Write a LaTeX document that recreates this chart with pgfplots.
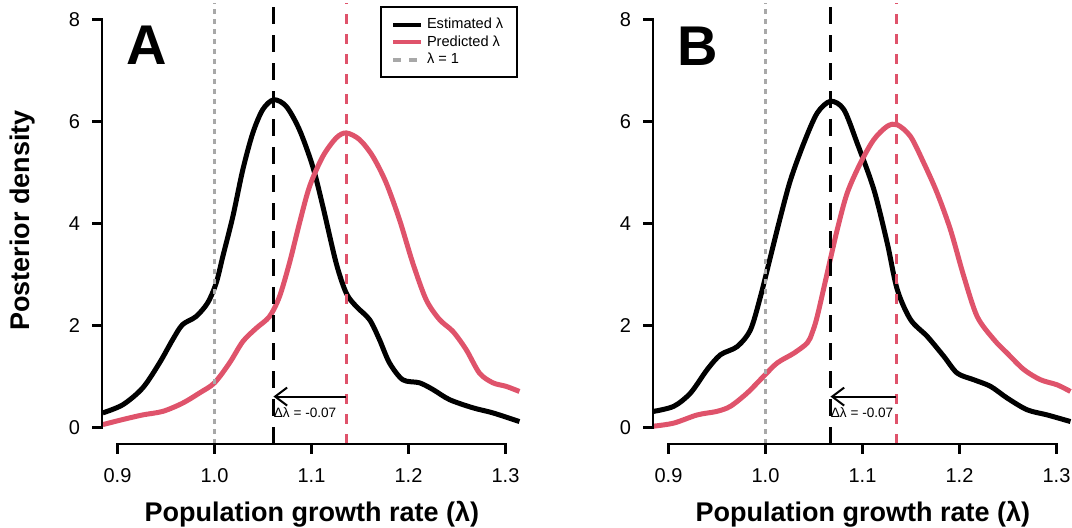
\documentclass[border=0pt]{standalone}
\usepackage{fontspec}
\setmainfont{Liberation Sans}
\usepackage{pgfplots}
\pgfplotsset{compat=1.18}
\usetikzlibrary{arrows.meta}
\definecolor{rred}{HTML}{DF536B}
\definecolor{rgray}{HTML}{A8A8A8}

\pgfplotsset{rstyle/.style={
  scale only axis, width=209.5pt, height=220.3pt,
  xmin=0.884, xmax=1.316, ymin=-0.32, ymax=8.32,
  axis x line=bottom, axis y line=left,
  axis line style={-, line width=1.3pt, line cap=rect},
  x axis line style={shorten <=7.76pt, shorten >=7.76pt},
  y axis line style={shorten <=8.16pt, shorten >=8.16pt},
  xtick={0.9,1.0,1.1,1.2,1.3}, ytick={0,2,4,6,8},
  tick align=outside, major tick length=0pt,
  ticklabel style={font=\fontsize{10}{12}\selectfont},
  /pgf/number format/assume math mode=true,
  xticklabel style={/pgf/number format/fixed, /pgf/number format/fixed zerofill, /pgf/number format/precision=1, yshift=-8.6pt},
  yticklabel style={xshift=-7.5pt},
  clip=false,
  xlabel={\bfseries Population growth rate (λ)},
  xlabel style={at={(axis description cs:0.501,-0.175)}, anchor=base, font=\fontsize{13.5}{16}\selectfont},
}}

\begin{document}
\begin{tikzpicture}
\useasboundingbox (0,0) rectangle (536pt,264pt);

% Panel A
\begin{axis}[rstyle, name=A, at={(51pt,42pt)}, anchor=south west,
  ylabel={\bfseries Posterior density},
  ylabel style={at={(axis description cs:-0.1885,0.507)}, anchor=center, font=\fontsize{13.5}{16}\selectfont},
  legend cell align=left,
  legend image code/.code={\draw[#1] (0pt,0pt) -- (14pt,0pt);},
  legend style={at={(0.6635,0.993)}, anchor=north west, draw=black, line width=1pt,
    font=\fontsize{7.3}{8.5}\selectfont, inner xsep=5pt, inner ysep=4.2pt, row sep=0pt,
    nodes={inner ysep=1pt}},
]
\addplot[black, line width=2.5pt, smooth, tension=0.5, forget plot] coordinates {
(0.8848,0.29) (0.9055,0.45) (0.926,0.78) (0.9433,1.27) (0.957,1.73) (0.967,2.02)
(0.981,2.18) (0.993,2.45) (1.0018,2.84) (1.0086,3.36) (1.0189,4.14) (1.0292,5.06)
(1.0395,5.78) (1.0498,6.24) (1.0611,6.43) (1.074,6.30) (1.0876,5.84) (1.1013,5.12)
(1.1117,4.34) (1.1254,3.23) (1.1358,2.64) (1.146,2.38) (1.1598,2.12) (1.170,1.73)
(1.1804,1.27) (1.1941,0.94) (1.2113,0.88) (1.225,0.75) (1.2423,0.55) (1.2663,0.39)
(1.287,0.29) (1.3144,0.12)};
\addplot[rred, line width=2.5pt, smooth, tension=0.5, forget plot] coordinates {
(0.8848,0.06) (0.9055,0.16) (0.926,0.25) (0.9467,0.32) (0.967,0.48) (0.9845,0.68)
(1.0,0.88) (1.0155,1.27) (1.0292,1.69) (1.043,1.95) (1.0567,2.18) (1.067,2.57)
(1.0773,3.23) (1.0876,4.01) (1.098,4.73) (1.1117,5.32) (1.1254,5.68) (1.1358,5.78)
(1.1495,5.65) (1.1632,5.32) (1.177,4.80) (1.1907,4.08) (1.2044,3.23) (1.2182,2.51)
(1.232,2.12) (1.2457,1.89) (1.2595,1.53) (1.2732,1.07) (1.287,0.88) (1.3007,0.81)
(1.3144,0.71)};
\addplot[rgray, line width=1.5pt, dash pattern=on 2.5pt off 2.5pt, forget plot] coordinates {(1.0,-0.32) (1.0,8.32)};
\addplot[black, line width=1.6pt, dash pattern=on 8.3pt off 5.7pt, forget plot] coordinates {(1.0608,-0.32) (1.0608,8.32)};
\addplot[rred, line width=1.4pt, dash pattern=on 5pt off 5pt, forget plot] coordinates {(1.1358,-0.32) (1.1358,8.32)};
\draw[line width=1pt, {Straight Barb[length=6pt,width=9pt]}-] (axis cs:1.0608,0.61) -- (axis cs:1.1358,0.61);
\node[anchor=base west, inner sep=0pt, font=\fontsize{6.8}{8}\selectfont] at (axis cs:1.0608,0.2) {Δλ = -0.07};
\node[font=\fontsize{28}{30}\selectfont\bfseries] at (axis cs:0.93,7.5) {A};
\addlegendimage{black, line width=2pt}
\addlegendentry{Estimated λ}
\addlegendimage{rred, line width=2pt}
\addlegendentry{Predicted λ}
\addlegendimage{rgray, line width=2pt, dash pattern=on 4pt off 4pt}
\addlegendentry{λ = 1}
\end{axis}

% Panel B
\begin{axis}[rstyle, name=B, at={(326.5pt,42pt)}, anchor=south west]
\addplot[black, line width=2.5pt, smooth, tension=0.5, forget plot] coordinates {
(0.8848,0.32) (0.9055,0.42) (0.9227,0.68) (0.9399,1.14) (0.9536,1.43) (0.9708,1.59)
(0.9845,1.92) (0.9948,2.57) (1.0052,3.36) (1.0155,4.14) (1.0258,4.86) (1.0395,5.58)
(1.0533,6.17) (1.067,6.40) (1.0807,6.24) (1.0945,5.58) (1.1117,4.67) (1.1255,3.62)
(1.1358,2.71) (1.1495,2.12) (1.1667,1.79) (1.1838,1.40) (1.1976,1.07) (1.2147,0.94)
(1.232,0.81) (1.2492,0.58) (1.2698,0.35) (1.2904,0.25) (1.3144,0.12)};
\addplot[rred, line width=2.5pt, smooth, tension=0.5, forget plot] coordinates {
(0.8848,0.03) (0.9055,0.09) (0.9296,0.25) (0.950,0.32) (0.9639,0.42) (0.9811,0.68)
(0.9982,1.01) (1.0121,1.27) (1.0292,1.46) (1.043,1.66) (1.0481,1.86) (1.0533,2.18)
(1.0636,3.03) (1.0739,3.88) (1.0842,4.60) (1.0979,5.19) (1.1117,5.65) (1.1255,5.91)
(1.1358,5.94) (1.1495,5.71) (1.1632,5.19) (1.177,4.60) (1.1907,3.88) (1.2044,2.97)
(1.2182,2.18) (1.2354,1.73) (1.2492,1.46) (1.2663,1.14) (1.2835,0.94) (1.3007,0.84)
(1.3144,0.71)};
\addplot[rgray, line width=1.5pt, dash pattern=on 2.5pt off 2.5pt, forget plot] coordinates {(1.0,-0.32) (1.0,8.32)};
\addplot[black, line width=1.6pt, dash pattern=on 8.3pt off 5.7pt, forget plot] coordinates {(1.067,-0.32) (1.067,8.32)};
\addplot[rred, line width=1.4pt, dash pattern=on 5pt off 5pt, forget plot] coordinates {(1.1347,-0.32) (1.1347,8.32)};
\draw[line width=1pt, {Straight Barb[length=6pt,width=9pt]}-] (axis cs:1.067,0.61) -- (axis cs:1.1347,0.61);
\node[anchor=base west, inner sep=0pt, font=\fontsize{6.8}{8}\selectfont] at (axis cs:1.067,0.2) {Δλ = -0.07};
\node[font=\fontsize{28}{30}\selectfont\bfseries] at (axis cs:0.93,7.47) {B};
\end{axis}

% R-style axis lines and outward ticks, placed relative to each axis box
\foreach \ax in {A,B}{
  \draw[black, line width=1.3pt, line cap=rect] ([xshift=7.76pt]\ax.south west) -- ([xshift=201.74pt]\ax.south west);
  \draw[black, line width=1.3pt, line cap=rect] ([yshift=8.16pt]\ax.south west) -- ([yshift=212.14pt]\ax.south west);
  \foreach \d in {7.76pt,56.25pt,104.75pt,153.24pt,201.74pt}
    \draw[black, line width=1.3pt] ([xshift=\d]\ax.south west) -- ++(0,-5pt);
  \foreach \d in {8.16pt,59.16pt,110.15pt,161.15pt,212.14pt}
    \draw[black, line width=1.3pt] ([yshift=\d]\ax.south west) -- ++(-5pt,0);
}
\end{tikzpicture}
\end{document}
